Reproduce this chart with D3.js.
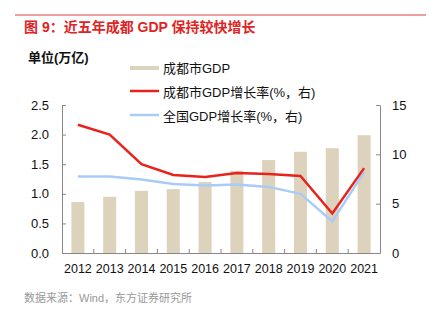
<!DOCTYPE html>
<html><head><meta charset="utf-8">
<script src="https://cdn.jsdelivr.net/npm/d3@7/dist/d3.min.js"></script>
<style>body{margin:0;background:#fff;}svg{display:block;font-family:"Liberation Sans","Noto Sans CJK SC",sans-serif;}</style>
</head><body><svg id="c" width="436" height="332"></svg>
<script>
const years = ["2012","2013","2014","2015","2016","2017","2018","2019","2020","2021"];
const cdGDP = [0.86, 0.95, 1.05, 1.08, 1.20, 1.39, 1.57, 1.71, 1.77, 1.99];
const cdGrowth = [13.0, 12.0, 9.0, 7.9, 7.7, 8.1, 8.0, 7.8, 4.0, 8.6];
const cnGrowth = [7.75, 7.75, 7.45, 7.0, 6.85, 6.95, 6.7, 6.0, 3.2, 8.2];
const leftTicks = [0, 0.5, 1.0, 1.5, 2.0, 2.5];
const rightTicks = [0, 5, 10, 15];
const legendLabels = ["成都市GDP", "成都市GDP增长率(%，右)", "全国GDP增长率(%，右)"];

const svg = d3.select("#c");
const L = 62, R = 380, T = 105, B = 253;
const cBar = "#ddd3bd", cRed = "#e8231c", cBlue = "#a9cbf8", cAxis = "#888";

svg.append("line").attr("x1",15).attr("x2",426).attr("y1",15).attr("y2",15).attr("stroke","#e03a3a").attr("stroke-width",1);
svg.append("text").attr("x",24).attr("y",32).attr("fill","#e02424").attr("font-size",14).attr("font-weight","bold")
  .text("图 9：近五年成都 GDP 保持较快增长");
svg.append("text").attr("x",28).attr("y",62).attr("fill","#111").attr("font-size",13).attr("font-weight","bold").text("单位(万亿)");

const x = d3.scaleBand().domain(years).range([L,R]).paddingInner(0.59).paddingOuter(0.295);
const xb = d3.scaleBand().domain(years).range([L,R]);
const yL = d3.scaleLinear().domain([0,2.5]).range([B,T]);
const yR = d3.scaleLinear().domain([0,15]).range([B,T]);

svg.append("g").selectAll("rect").data(years).join("rect")
  .attr("x",d=>x(d)).attr("width",x.bandwidth())
  .attr("y",(d,i)=>yL(cdGDP[i])).attr("height",(d,i)=>B-yL(cdGDP[i])).attr("fill",cBar);

const line = d3.line().x((d,i)=>xb(years[i])+xb.bandwidth()/2).y(d=>yR(d));
svg.append("path").attr("d",line(cnGrowth)).attr("fill","none").attr("stroke",cBlue).attr("stroke-width",2.5);
svg.append("path").attr("d",line(cdGrowth)).attr("fill","none").attr("stroke",cRed).attr("stroke-width",2.5);

// axes
const gL = svg.append("g").attr("transform",`translate(${L},0)`)
  .call(d3.axisLeft(yL).tickValues(leftTicks).tickFormat(d3.format(".1f")).tickSizeInner(-4).tickSizeOuter(0).tickPadding(13));
const gR = svg.append("g").attr("transform",`translate(${R},0)`)
  .call(d3.axisRight(yR).tickValues(rightTicks).tickSizeInner(-4).tickSizeOuter(0).tickPadding(12));
const gX = svg.append("g").attr("transform",`translate(0,${B})`)
  .call(d3.axisBottom(xb).tickSize(0).tickPadding(11));
// inner ticks at band boundaries
svg.append("g").selectAll("line").data(years.slice(1)).join("line")
  .attr("x1",d=>xb(d)).attr("x2",d=>xb(d)).attr("y1",B).attr("y2",B-4).attr("stroke",cAxis);
[gL,gR,gX].forEach(g=>{
  g.selectAll(".domain").attr("stroke",cAxis);
  g.selectAll(".tick line").attr("stroke",cAxis);
  g.selectAll("text").attr("font-size",13).attr("fill","#111").attr("font-family","Liberation Sans, sans-serif");
});
gX.selectAll("text").attr("font-size",12.5);

// legend
const lg = svg.append("g");
lg.append("rect").attr("x",130).attr("y",66).attr("width",29).attr("height",4).attr("fill",cBar);
lg.append("line").attr("x1",130).attr("x2",159).attr("y1",91).attr("y2",91).attr("stroke",cRed).attr("stroke-width",2.5);
lg.append("line").attr("x1",130).attr("x2",159).attr("y1",115).attr("y2",115).attr("stroke",cBlue).attr("stroke-width",2.5);
legendLabels.forEach((t,i)=>{
  lg.append("text").attr("x",163).attr("y",68+i*24).attr("dy","0.35em").attr("font-size",13).attr("fill","#111").text(t);
});

svg.append("text").attr("x",24).attr("y",302).attr("fill","#999").attr("font-size",11).text("数据来源：Wind，东方证券研究所");
</script></body></html>
